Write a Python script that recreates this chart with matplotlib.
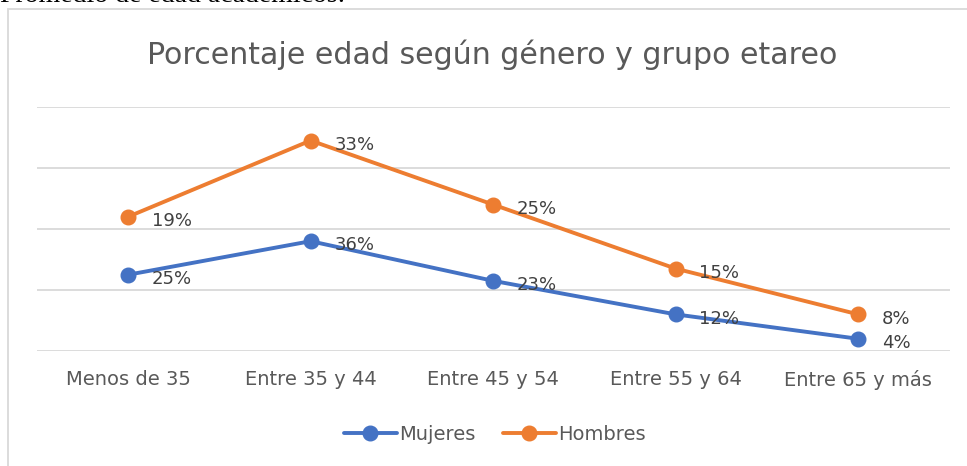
import matplotlib.pyplot as plt
from matplotlib.patches import Rectangle

# values (stacked line chart: Hombres drawn on top of Mujeres)
categorias = ["Menos de 35", "Entre 35 y 44", "Entre 45 y 54", "Entre 55 y 64", "Entre 65 y más"]
mujeres = [25, 36, 23, 12, 4]
hombres = [19, 33, 25, 15, 8]

AZUL = "#4472C4"
NARANJA = "#ED7D31"
GRIS = "#595959"

plt.rcParams["font.family"] = ["DejaVu Sans"]

fig = plt.figure(figsize=(9.67, 4.66), dpi=100)
ax = fig.add_axes([0.038, 0.2468, 0.944, 0.5236])

x = list(range(len(categorias)))
apilado = [m + h for m, h in zip(mujeres, hombres)]

ax.plot(x, mujeres, color=AZUL, lw=2.8, marker="o", ms=10.5, label="Mujeres",
        solid_capstyle="round", zorder=3)
ax.plot(x, apilado, color=NARANJA, lw=2.8, marker="o", ms=10.5, label="Hombres",
        solid_capstyle="round", zorder=3)

for xi, yi, v in zip(x, mujeres, mujeres):
    ax.annotate(f"{v}%", (xi, yi), xytext=(17, -3), textcoords="offset points",
                ha="left", va="center", fontsize=13, color="#404040")
for xi, yi, v in zip(x, apilado, hombres):
    ax.annotate(f"{v}%", (xi, yi), xytext=(17, -3), textcoords="offset points",
                ha="left", va="center", fontsize=13, color="#404040")

ax.set_xlim(-0.5, len(categorias) - 0.5)
ax.set_ylim(0, 80)
ax.set_yticks([0, 20, 40, 60, 80])
ax.yaxis.grid(True, color="#D9D9D9", lw=1.3)
ax.set_axisbelow(True)
ax.tick_params(axis="y", left=False, labelleft=False)
ax.set_xticks(x)
ax.set_xticklabels(categorias, fontsize=14, color=GRIS)
ax.tick_params(axis="x", length=0, pad=14)
for s in ax.spines.values():
    s.set_visible(False)

fig.text(0.509, 0.882, "Porcentaje edad según género y grupo etareo",
         ha="center", va="center", fontsize=21.6, color=GRIS)

leg = ax.legend(loc="center", bbox_to_anchor=(0.512, 1 - 434 / 466), bbox_transform=fig.transFigure,
                ncol=2, frameon=False, fontsize=14, handlelength=2.7, handletextpad=0.15,
                columnspacing=1.4)
for t in leg.get_texts():
    t.set_color(GRIS)

# chart border (extends past the cropped image)
fig.patches.append(Rectangle((8 / 967, -0.1), 1.2, 1 - 9 / 466 + 0.1, transform=fig.transFigure,
                             fill=False, edgecolor="#D9D9D9", lw=1.3))

# cut-off document text above the chart
fig.text(0.0, 1 - 2 / 466, "Promedio de edad académicos:", ha="left", va="baseline",
         fontsize=20, family="Liberation Serif", color="black")

fig.savefig("out.png", dpi=100)
